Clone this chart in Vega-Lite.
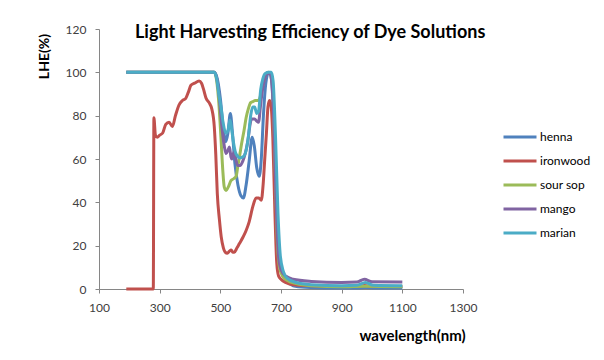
{
"$schema": "https://vega.github.io/schema/vega-lite/v6.json",
"width": 364, "height": 260,
"autosize": {"type": "none"},
"padding": {"left": 99, "top": 29, "right": 141, "bottom": 71},
"background": "white",
"config": {"view": {"stroke": null}, "font": "Lato"},
"title": {"text": "Light Harvesting Efficiency of Dye Solutions", "anchor": "start", "frame": "group", "dx": 36, "offset": 0, "baseline": "middle", "dy": 28, "fontSize": 18, "font": "Lato", "fontWeight": "bold", "color": "#000000"},
"data": {"values": [
{"s":"henna","w":190,"v":100},{"s":"henna","w":480,"v":100},{"s":"henna","w":490,"v":97},{"s":"henna","w":500,"v":88},{"s":"henna","w":510,"v":74},{"s":"henna","w":518,"v":68},{"s":"henna","w":525,"v":72},{"s":"henna","w":533,"v":81},{"s":"henna","w":540,"v":72},{"s":"henna","w":548,"v":58},{"s":"henna","w":558,"v":48},{"s":"henna","w":568,"v":43},{"s":"henna","w":576,"v":42},{"s":"henna","w":585,"v":48},{"s":"henna","w":595,"v":59},{"s":"henna","w":605,"v":70},{"s":"henna","w":612,"v":66},{"s":"henna","w":620,"v":56},{"s":"henna","w":628,"v":52},{"s":"henna","w":635,"v":60},{"s":"henna","w":642,"v":80},{"s":"henna","w":650,"v":95},{"s":"henna","w":658,"v":99.5},{"s":"henna","w":665,"v":99.5},{"s":"henna","w":672,"v":90},{"s":"henna","w":680,"v":60},{"s":"henna","w":688,"v":30},{"s":"henna","w":695,"v":14},{"s":"henna","w":705,"v":7},{"s":"henna","w":720,"v":3.5},{"s":"henna","w":740,"v":1.5},{"s":"henna","w":780,"v":0.8},{"s":"henna","w":850,"v":0.5},{"s":"henna","w":950,"v":0.5},{"s":"henna","w":980,"v":0.7},{"s":"henna","w":1010,"v":0.5},{"s":"henna","w":1100,"v":0.5},
{"s":"ironwood","w":190,"v":0},{"s":"ironwood","w":279,"v":0},{"s":"ironwood","w":281,"v":79},{"s":"ironwood","w":286,"v":71},{"s":"ironwood","w":292,"v":70},{"s":"ironwood","w":300,"v":71},{"s":"ironwood","w":310,"v":72},{"s":"ironwood","w":320,"v":76},{"s":"ironwood","w":331,"v":77},{"s":"ironwood","w":342,"v":75},{"s":"ironwood","w":352,"v":80},{"s":"ironwood","w":364,"v":85},{"s":"ironwood","w":375,"v":87},{"s":"ironwood","w":386,"v":88},{"s":"ironwood","w":395,"v":91},{"s":"ironwood","w":403,"v":94},{"s":"ironwood","w":415,"v":95},{"s":"ironwood","w":430,"v":96},{"s":"ironwood","w":438,"v":95},{"s":"ironwood","w":445,"v":92},{"s":"ironwood","w":453,"v":88},{"s":"ironwood","w":463,"v":86},{"s":"ironwood","w":472,"v":83},{"s":"ironwood","w":480,"v":75},{"s":"ironwood","w":485,"v":62},{"s":"ironwood","w":490,"v":44},{"s":"ironwood","w":497,"v":32},{"s":"ironwood","w":503,"v":24},{"s":"ironwood","w":510,"v":19},{"s":"ironwood","w":516,"v":17},{"s":"ironwood","w":523,"v":16.5},{"s":"ironwood","w":530,"v":17.5},{"s":"ironwood","w":536,"v":18},{"s":"ironwood","w":541,"v":17},{"s":"ironwood","w":546,"v":17},{"s":"ironwood","w":555,"v":19},{"s":"ironwood","w":563,"v":21},{"s":"ironwood","w":575,"v":24},{"s":"ironwood","w":585,"v":27},{"s":"ironwood","w":595,"v":31},{"s":"ironwood","w":607,"v":38},{"s":"ironwood","w":618,"v":42},{"s":"ironwood","w":627,"v":42},{"s":"ironwood","w":635,"v":41},{"s":"ironwood","w":641,"v":48},{"s":"ironwood","w":646,"v":59},{"s":"ironwood","w":652,"v":72},{"s":"ironwood","w":657,"v":84},{"s":"ironwood","w":662,"v":87},{"s":"ironwood","w":667,"v":85},{"s":"ironwood","w":673,"v":70},{"s":"ironwood","w":680,"v":35},{"s":"ironwood","w":686,"v":12},{"s":"ironwood","w":692,"v":6},{"s":"ironwood","w":700,"v":4.5},{"s":"ironwood","w":715,"v":3},{"s":"ironwood","w":740,"v":2},{"s":"ironwood","w":800,"v":1.5},{"s":"ironwood","w":900,"v":1.2},{"s":"ironwood","w":950,"v":1.2},{"s":"ironwood","w":975,"v":1.6},{"s":"ironwood","w":1000,"v":1.2},{"s":"ironwood","w":1100,"v":1.2},
{"s":"sour sop","w":190,"v":100},{"s":"sour sop","w":480,"v":100},{"s":"sour sop","w":488,"v":96},{"s":"sour sop","w":495,"v":86},{"s":"sour sop","w":502,"v":70},{"s":"sour sop","w":508,"v":55},{"s":"sour sop","w":513,"v":47},{"s":"sour sop","w":519,"v":45.5},{"s":"sour sop","w":526,"v":47},{"s":"sour sop","w":535,"v":50},{"s":"sour sop","w":545,"v":51},{"s":"sour sop","w":552,"v":52},{"s":"sour sop","w":558,"v":57},{"s":"sour sop","w":563,"v":61},{"s":"sour sop","w":570,"v":67},{"s":"sour sop","w":578,"v":73},{"s":"sour sop","w":585,"v":79},{"s":"sour sop","w":592,"v":83},{"s":"sour sop","w":600,"v":86},{"s":"sour sop","w":607,"v":86.5},{"s":"sour sop","w":615,"v":87},{"s":"sour sop","w":624,"v":87},{"s":"sour sop","w":630,"v":88},{"s":"sour sop","w":637,"v":92},{"s":"sour sop","w":645,"v":97},{"s":"sour sop","w":652,"v":99.5},{"s":"sour sop","w":660,"v":100},{"s":"sour sop","w":667,"v":99},{"s":"sour sop","w":673,"v":92},{"s":"sour sop","w":680,"v":60},{"s":"sour sop","w":687,"v":25},{"s":"sour sop","w":695,"v":10},{"s":"sour sop","w":705,"v":6},{"s":"sour sop","w":720,"v":4},{"s":"sour sop","w":750,"v":2.5},{"s":"sour sop","w":800,"v":1.5},{"s":"sour sop","w":900,"v":1},{"s":"sour sop","w":975,"v":1.3},{"s":"sour sop","w":1100,"v":1},
{"s":"mango","w":190,"v":100},{"s":"mango","w":480,"v":100},{"s":"mango","w":490,"v":96},{"s":"mango","w":497,"v":88},{"s":"mango","w":505,"v":75},{"s":"mango","w":513,"v":66},{"s":"mango","w":519,"v":62.5},{"s":"mango","w":525,"v":64},{"s":"mango","w":530,"v":65.5},{"s":"mango","w":535,"v":61},{"s":"mango","w":538,"v":60},{"s":"mango","w":542,"v":62},{"s":"mango","w":546,"v":63.5},{"s":"mango","w":551,"v":60},{"s":"mango","w":557,"v":57},{"s":"mango","w":565,"v":57},{"s":"mango","w":574,"v":59},{"s":"mango","w":583,"v":63},{"s":"mango","w":591,"v":68.5},{"s":"mango","w":597,"v":75},{"s":"mango","w":603,"v":78.5},{"s":"mango","w":613,"v":78.5},{"s":"mango","w":620,"v":77.5},{"s":"mango","w":626,"v":77},{"s":"mango","w":632,"v":84},{"s":"mango","w":637,"v":90},{"s":"mango","w":646,"v":97},{"s":"mango","w":655,"v":99.5},{"s":"mango","w":663,"v":99.5},{"s":"mango","w":670,"v":95},{"s":"mango","w":677,"v":75},{"s":"mango","w":684,"v":40},{"s":"mango","w":692,"v":15},{"s":"mango","w":700,"v":9},{"s":"mango","w":715,"v":6},{"s":"mango","w":740,"v":4.5},{"s":"mango","w":800,"v":3.5},{"s":"mango","w":900,"v":3},{"s":"mango","w":950,"v":3.2},{"s":"mango","w":975,"v":4.5},{"s":"mango","w":1000,"v":3.3},{"s":"mango","w":1100,"v":3.2},
{"s":"marian","w":190,"v":100},{"s":"marian","w":480,"v":100},{"s":"marian","w":488,"v":97},{"s":"marian","w":495,"v":90},{"s":"marian","w":502,"v":84},{"s":"marian","w":510,"v":76},{"s":"marian","w":518,"v":72},{"s":"marian","w":525,"v":73},{"s":"marian","w":532,"v":78},{"s":"marian","w":537,"v":74},{"s":"marian","w":543,"v":68},{"s":"marian","w":550,"v":63},{"s":"marian","w":556,"v":61.5},{"s":"marian","w":565,"v":60.5},{"s":"marian","w":575,"v":61},{"s":"marian","w":585,"v":64},{"s":"marian","w":593,"v":71},{"s":"marian","w":600,"v":80},{"s":"marian","w":607,"v":84},{"s":"marian","w":613,"v":84},{"s":"marian","w":620,"v":81},{"s":"marian","w":626,"v":82},{"s":"marian","w":633,"v":92},{"s":"marian","w":640,"v":97},{"s":"marian","w":648,"v":99.5},{"s":"marian","w":660,"v":100},{"s":"marian","w":668,"v":100},{"s":"marian","w":674,"v":96},{"s":"marian","w":682,"v":70},{"s":"marian","w":690,"v":35},{"s":"marian","w":698,"v":15},{"s":"marian","w":708,"v":8},{"s":"marian","w":720,"v":5},{"s":"marian","w":750,"v":3},{"s":"marian","w":800,"v":2},{"s":"marian","w":900,"v":1.5},{"s":"marian","w":950,"v":1.7},{"s":"marian","w":978,"v":3},{"s":"marian","w":1005,"v":1.7},{"s":"marian","w":1100,"v":1.5}
]},
"mark": {"type": "line", "interpolate": "monotone", "strokeWidth": 3},
"encoding": {
"x": {"field": "w", "type": "quantitative", "scale": {"domain": [100, 1300], "nice": false, "zero": false},
 "axis": {"values": [100, 300, 500, 700, 900, 1100, 1300], "format": "d", "title": "wavelength(nm)", "grid": false, "labelFlush": false, "domainColor": "#868686", "tickColor": "#868686", "tickSize": 4, "labelFontSize": 12, "labelFont": "Lato", "labelColor": "#404040", "labelPadding": 9, "titleFontSize": 15, "titleFont": "Lato", "titleFontWeight": "bold", "titleColor": "#000000", "titleX": 313, "titleY": 46, "titleAlign": "center", "titleBaseline": "middle"}},
"y": {"field": "v", "type": "quantitative", "scale": {"domain": [0, 120], "nice": false},
 "axis": {"values": [0, 20, 40, 60, 80, 100, 120], "title": "LHE(%)", "grid": false, "labelFlush": false, "domainColor": "#868686", "tickColor": "#868686", "tickSize": 4, "labelFontSize": 12, "labelFont": "Lato", "labelColor": "#404040", "labelPadding": 9, "titleFontSize": 14, "titleFont": "Lato", "titleFontWeight": "bold", "titleColor": "#000000", "titleX": -55, "titleY": 27, "titleAngle": -90, "titleAlign": "center", "titleBaseline": "middle"}},
"color": {"field": "s", "type": "nominal",
 "scale": {"domain": ["henna", "ironwood", "sour sop", "mango", "marian"], "range": ["#4F81BD", "#C0504D", "#9BBB59", "#8064A2", "#4BACC6"]},
 "legend": {"orient": "none", "legendX": 403, "legendY": 90, "title": null, "symbolType": "stroke", "symbolSize": 1089, "symbolStrokeWidth": 3, "labelFontSize": 12, "labelFont": "Lato", "labelColor": "#000000", "labelOffset": 2, "rowPadding": -9, "padding": 0}}
}
}
